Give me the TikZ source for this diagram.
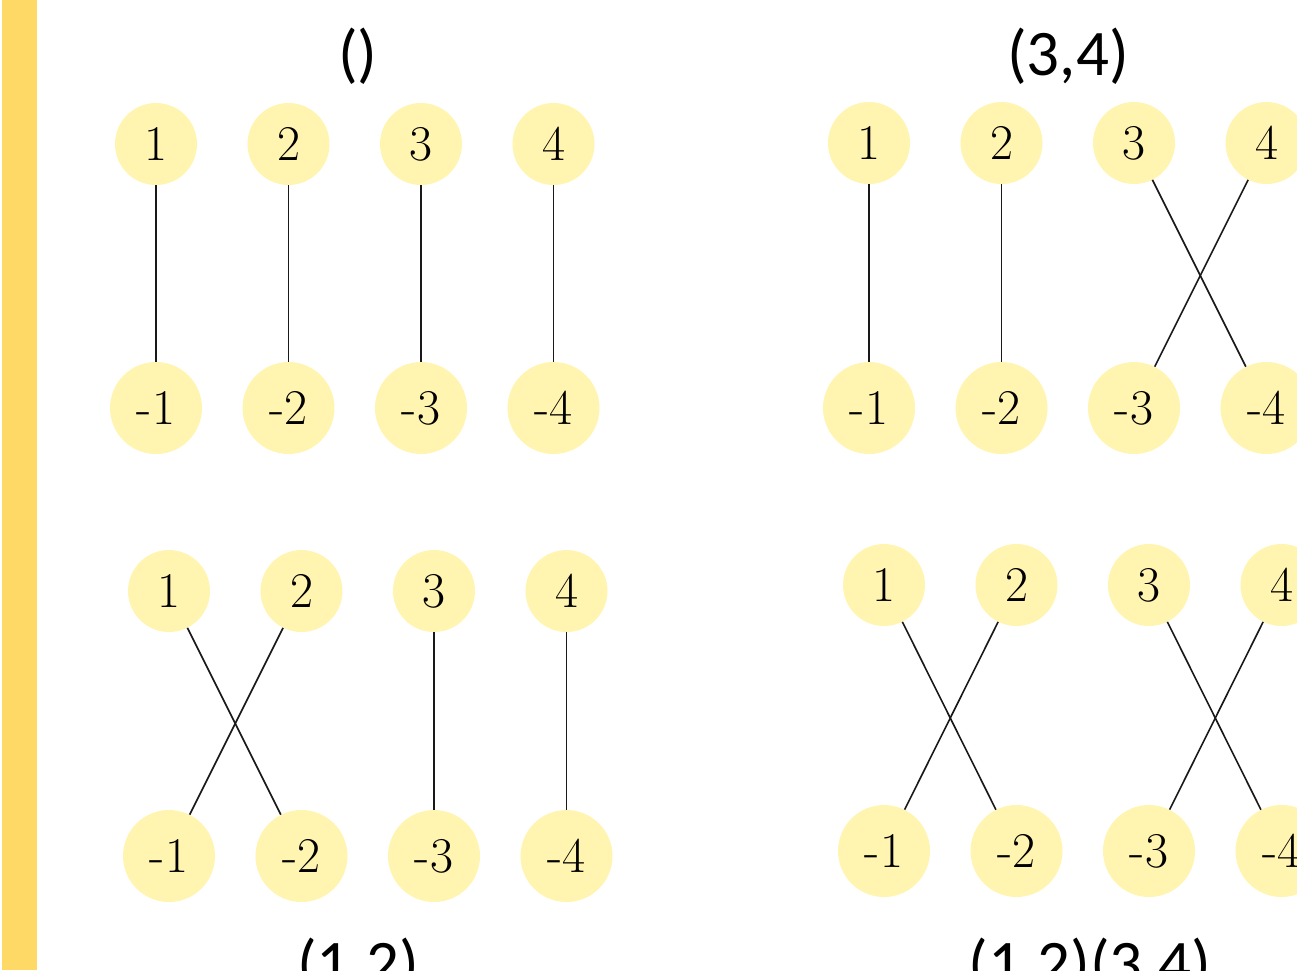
\documentclass[tikz,border=0pt]{standalone}
\usepackage{fontspec}
\newfontfamily\calfont{Carlito}
\definecolor{barcol}{HTML}{FFD966}
\definecolor{nodecol}{HTML}{FFF5B1}
\tikzset{
  topnode/.style={circle,fill=nodecol,minimum size=82pt,inner sep=0pt,font=\fontsize{50}{50}\selectfont},
  botnode/.style={circle,fill=nodecol,minimum size=92pt,inner sep=0pt,font=\fontsize{50}{50}\selectfont},
  conn/.style={line width=1.6pt,black!90},
  title/.style={font=\calfont\fontsize{65}{65}\selectfont,anchor=base,inner sep=0pt}
}
\begin{document}
\begin{tikzpicture}[x=1pt,y=-1pt]
\useasboundingbox (0,0) rectangle (1297,970);
\clip (0,0) rectangle (1297,970);
\fill[barcol] (2,0) rectangle (37,970);
% titles
\node[title] (t1) at (358,75) {()};
\node[title] (t2) at (1068,75) {(3,4)};
\node[title] (t3) at (358,985) {(1,2)};
\node[title] (t4) at (1090,985) {(1,2)(3,4)};
% panels: name, x0, top y, bottom y
\foreach \p/\xo/\yt/\yb in {a/156/144/408, b/869/143/408, c/169/591/856, d/884/585/851}{
  \foreach \i in {1,2,3,4}{
    \node[topnode] (\p t\i) at ({\xo+(\i-1)*132.5},\yt) {\i};
    \node[botnode] (\p b\i) at ({\xo+(\i-1)*132.5},\yb) {-\i};
  }
}
% panel a: identity
\draw[conn] (at1) -- (ab1);
\draw[conn] (at2) -- (ab2);
\draw[conn] (at3) -- (ab3);
\draw[conn] (at4) -- (ab4);
% panel b: (3,4)
\draw[conn] (bt1) -- (bb1);
\draw[conn] (bt2) -- (bb2);
\draw[conn] (bt3) -- (bb4);
\draw[conn] (bt4) -- (bb3);
% panel c: (1,2)
\draw[conn] (ct1) -- (cb2);
\draw[conn] (ct2) -- (cb1);
\draw[conn] (ct3) -- (cb3);
\draw[conn] (ct4) -- (cb4);
% panel d: (1,2)(3,4)
\draw[conn] (dt1) -- (db2);
\draw[conn] (dt2) -- (db1);
\draw[conn] (dt3) -- (db4);
\draw[conn] (dt4) -- (db3);
\end{tikzpicture}
\end{document}
